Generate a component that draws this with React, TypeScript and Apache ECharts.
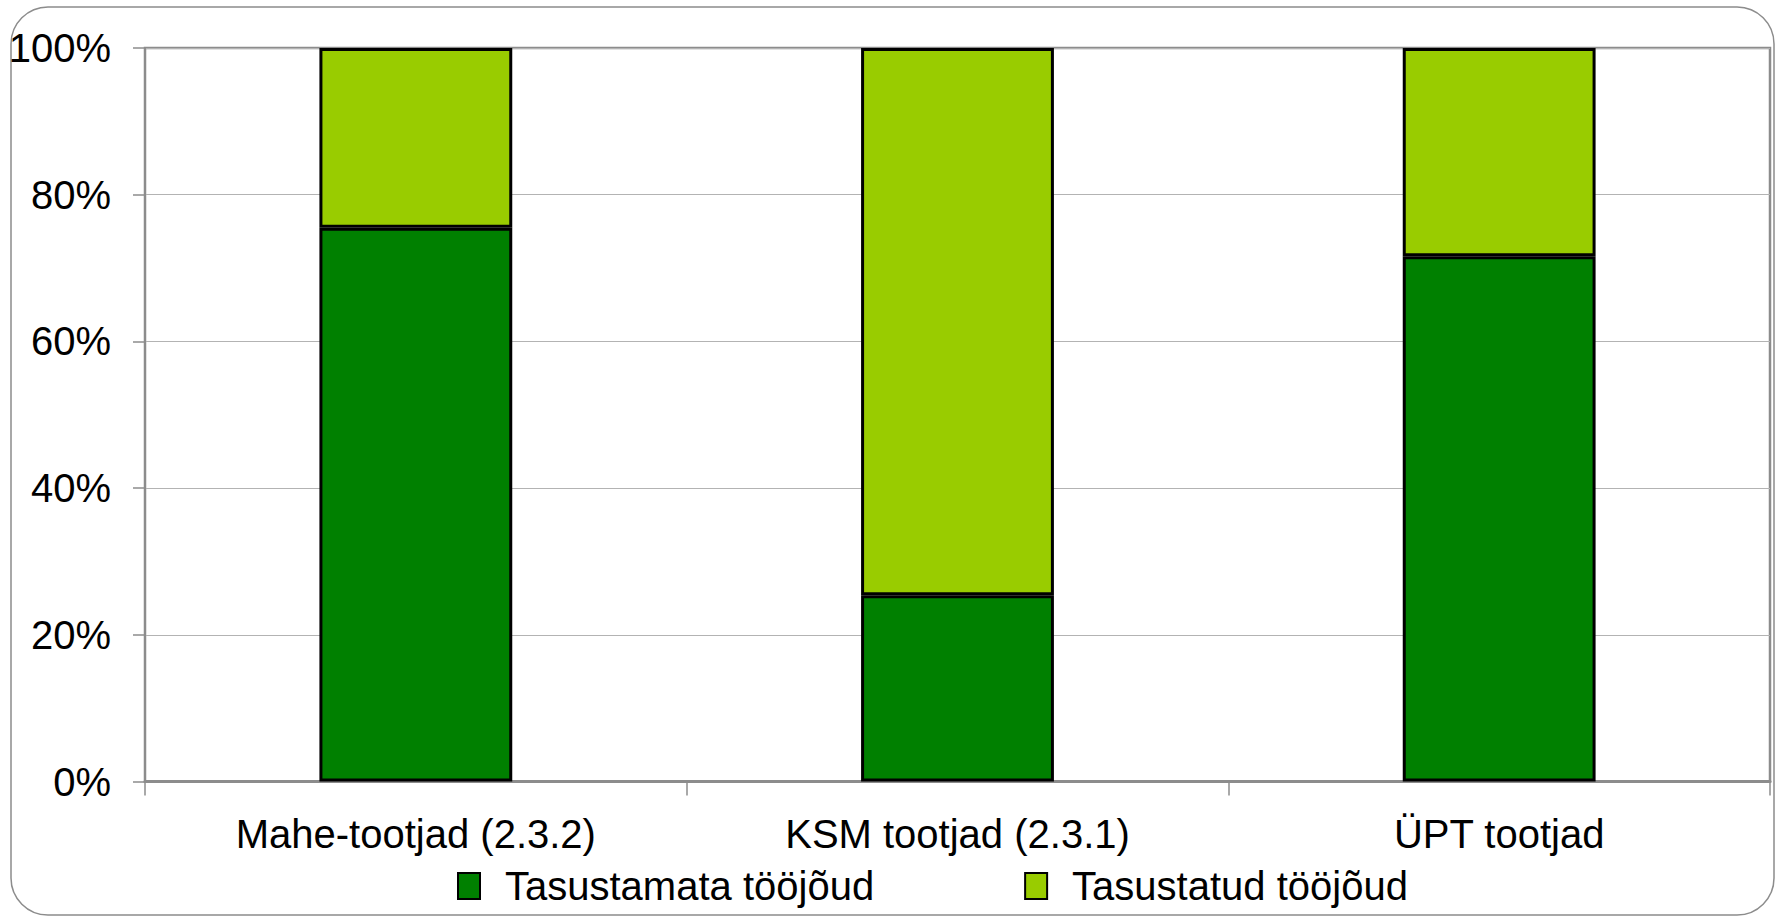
import React, { useEffect, useRef } from "react";
import * as echarts from "echarts";

const categories = ["Mahe-tootjad (2.3.2)", "KSM tootjad (2.3.1)", "ÜPT tootjad"];
const unpaid = [75.5, 25.4, 71.6];
const paid = [24.5, 74.6, 28.4];
const seriesNames = ["Tasustamata tööjõud", "Tasustatud tööjõud"];
const yTicks = [0, 20, 40, 60, 80, 100];

const FONT = "'Liberation Sans', Arial, sans-serif";

export default function App() {
  const ref = useRef<HTMLDivElement>(null);
  useEffect(() => {
    if (!ref.current) return;
    const chart = echarts.init(ref.current, undefined, { renderer: "svg" });
    chart.setOption({
      animation: false,
      backgroundColor: "#ffffff",
      textStyle: { fontFamily: FONT },
      graphic: [
        {
          type: "rect",
          shape: { x: 11, y: 7, width: 1763, height: 908, r: 37 },
          style: { fill: "none", stroke: "#8c8c8c", lineWidth: 1.5 },
          z: -1,
        },
      ],
      grid: {
        left: 145,
        right: 6,
        top: 48,
        bottom: 138.5,
        show: true,
        borderColor: "#8c8c8c",
        borderWidth: 2.5,
        backgroundColor: "transparent",
      },
      legend: {
        left: 452,
        top: 861,
        itemWidth: 22,
        itemHeight: 26,
        itemGap: 150,
        icon: "rect",
        textStyle: {
          fontFamily: FONT,
          fontSize: 40,
          color: "#000",
          padding: [0, 0, 0, 20],
        },
        data: seriesNames,
      },
      xAxis: {
        type: "category",
        data: categories,
        axisLine: { show: true, lineStyle: { color: "#8c8c8c", width: 3 } },
        axisTick: { show: true, length: 14, interval: 0, lineStyle: { color: "#8c8c8c", width: 1.5 } },
        axisLabel: { fontFamily: FONT, fontSize: 40, color: "#000", margin: 32, interval: 0 },
      },
      yAxis: {
        type: "value",
        min: yTicks[0],
        max: yTicks[yTicks.length - 1],
        interval: 20,
        axisLine: { show: true, lineStyle: { color: "#8c8c8c", width: 2 } },
        axisTick: { show: true, length: 12, lineStyle: { color: "#8c8c8c", width: 1.5 } },
        axisLabel: {
          fontFamily: FONT,
          fontSize: 40,
          color: "#000",
          margin: 34,
          formatter: "{value}%",
        },
        splitLine: { show: true, lineStyle: { color: "#b3b3b3", width: 1 } },
      },
      series: [
        {
          name: seriesNames[0],
          type: "bar",
          stack: "total",
          barWidth: "35.6%",
          data: unpaid,
          itemStyle: { color: "#008000", borderColor: "#000", borderWidth: 3 },
        },
        {
          name: seriesNames[1],
          type: "bar",
          stack: "total",
          barWidth: "35.6%",
          data: paid,
          itemStyle: { color: "#99cc00", borderColor: "#000", borderWidth: 3 },
        },
      ],
    });
    return () => chart.dispose();
  }, []);
  return <div ref={ref} style={{ width: 1776, height: 920, position: "absolute", left: 0, top: 0 }} />;
}
